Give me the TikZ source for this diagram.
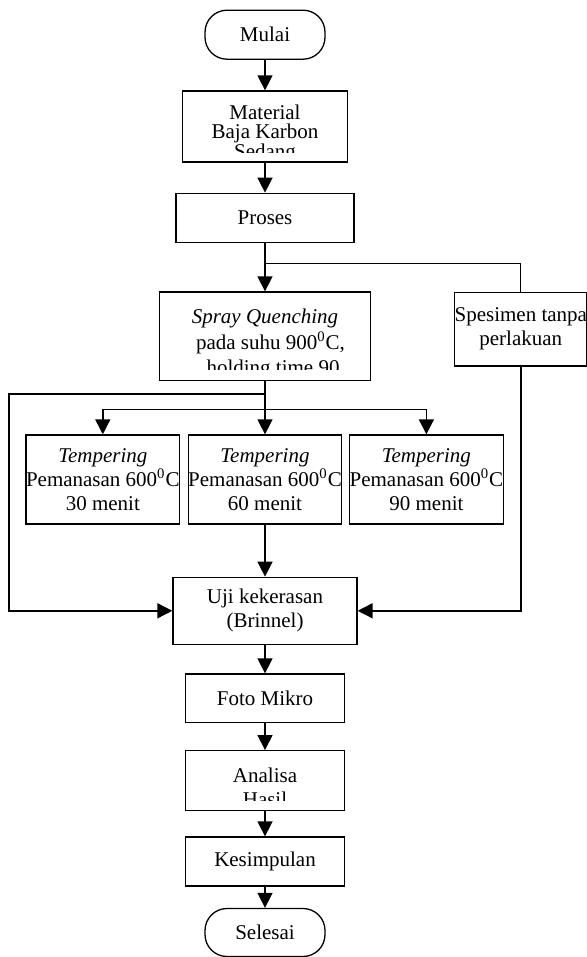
\documentclass[tikz,border=0pt]{standalone}
\usepackage{fontspec}
\setmainfont{Liberation Serif}
\usetikzlibrary{arrows.meta}
\tikzset{kotak/.style={rectangle,draw,line width=0.65pt,inner sep=0pt,align=center}}
\tikzset{ujung/.style={kotak,rounded corners=11pt}}
\tikzset{isi/.style={inner sep=0pt,align=center,anchor=north}}

\begin{document}
\begin{tikzpicture}[x=0.5pt,y=-0.5pt,>={Triangle[length=7.5pt,width=7.5pt]},line width=0.75pt,font=\fontsize{10.5}{12}\selectfont]
    \useasboundingbox (0,0) rectangle (587,957);

    \node[ujung,minimum width=60pt,minimum height=24.5pt] (mulai) at (265,34.7) {Mulai};
    \node[kotak,minimum width=82.2pt,minimum height=35.5pt] (mat) at (265,126.5) {};
    \node[kotak,minimum width=89pt,minimum height=24.5pt] (pros) at (265,217.8) {Proses};
    \node[kotak,minimum width=105.8pt,minimum height=44.3pt] (spray) at (265,336.3) {};
    \node[kotak,minimum width=65.5pt,minimum height=36.8pt] (spes) at (520.8,329.2) {Spesimen tanpa\\perlakuan};

    \node[kotak,minimum width=76.2pt,minimum height=44.5pt] (t1) at (102.8,479.5) {\textit{Tempering}\\Pemanasan 600\textsuperscript{0}C\\30 menit};
    \node[kotak,minimum width=74.7pt,minimum height=44.5pt] (t2) at (265,479.5) {\textit{Tempering}\\Pemanasan 600\textsuperscript{0}C\\60 menit};
    \node[kotak,minimum width=76.3pt,minimum height=44.5pt] (t3) at (426.4,479.5) {\textit{Tempering}\\Pemanasan 600\textsuperscript{0}C\\90 menit};

    \node[kotak,minimum width=92pt,minimum height=33.5pt] (uji) at (265,610.8) {Uji kekerasan\\(Brinnel)};
    \node[kotak,minimum width=79.2pt,minimum height=24.3pt] (foto) at (265,698.3) {Foto Mikro};
    \node[kotak,minimum width=79.2pt,minimum height=30pt] (anl) at (265,780.7) {};
    \node[kotak,minimum width=79.5pt,minimum height=24.5pt] (kes) at (265,861.5) {Kesimpulan};
    \node[ujung,minimum width=60pt,minimum height=24pt] (sel) at (265,932.5) {Selesai};

    % teks yang terpotong kotak
    \begin{scope}
      \clip (182,91) rectangle (347,152.5);
      \node[isi,font=\fontsize{10.5}{9.75}\selectfont] (matT) at (265,104) {Material\\Baja Karbon\\Sedang};
    \end{scope}
    \begin{scope}
      \clip (159,292) rectangle (371,369.5);
      \node[isi,font=\fontsize{10.5}{12.8}\selectfont] (sprayT) at (265,308.4) {\textit{Spray Quenching}\\\hspace*{5.5pt}pada suhu 900\textsuperscript{0}C,\\\hspace*{8pt}holding time 90};
    \end{scope}
    \begin{scope}
      \clip (186,750.7) rectangle (345,800);
      \node[isi] (anlT) at (265,767.4) {Analisa\\Hasil};
    \end{scope}

    \coordinate (j1) at (265,263.3);
    \coordinate (j2) at (265,394);
    \coordinate (j3) at (265,409.3);
    \coordinate (kiri) at (9,394);

    \draw[->] (mulai) -- (mat);
    \draw[->] (mat) -- (pros);
    \draw[->] (pros) -- (spray);
    \draw[line width=0.6pt] (j1) -| (spes);
    \draw[->] (spray) -- (t2);
    \draw[->] (j2) -- (kiri) |- (uji);
    \draw[->] (j3) -| (t1);
    \draw[->] (j3) -| (t3);
    \draw[->] (t2) -- (uji);
    \draw[->] (spes) |- (uji);
    \draw[->] (uji) -- (foto);
    \draw[->] (foto) -- (anl);
    \draw[->] (anl) -- (kes);
    \draw[->] (kes) -- (sel);
\end{tikzpicture}
\end{document}
